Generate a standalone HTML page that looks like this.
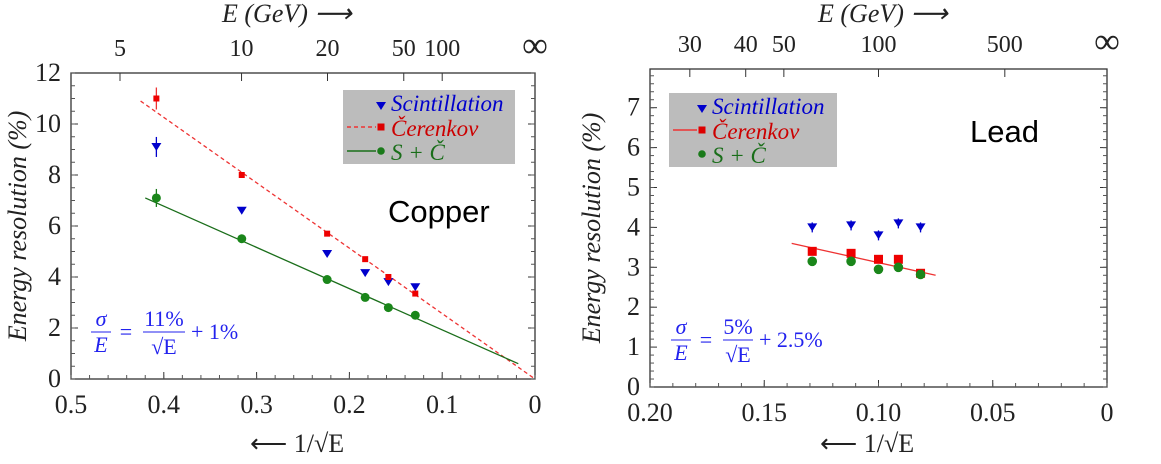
<!DOCTYPE html>
<html><head><meta charset="utf-8"><style>
body{margin:0;background:#fff;}
svg{display:block;}
</style></head><body>
<svg id="c" width="1161" height="464" viewBox="0 0 1161 464" font-family="Liberation Serif, serif"></svg>
<script>
// Copper data (x = 1/sqrt(E))
const cuX = [0.408, 0.316, 0.224, 0.183, 0.158, 0.129];
const cuScint = [9.1, 6.6, 4.9, 4.15, 3.8, 3.6];
const cuCer = [11.0, 8.0, 5.7, 4.7, 4.0, 3.35];
const cuSum = [7.1, 5.5, 3.9, 3.2, 2.8, 2.5];
const cuCerFitX = [0.425, 0.0];
const cuCerFitY = [10.9, 0.0];
const cuSumFitX = [0.42, 0.018];
const cuSumFitY = [7.1, 0.6];
const cuXTicks = ["0.5","0.4","0.3","0.2","0.1","0"];
const cuYTicks = ["0","2","4","6","8","10","12"];
const cuTopE = ["5","10","20","50","100"];
// Lead data
const pbX = [0.129, 0.112, 0.100, 0.0913, 0.0816];
const pbScint = [4.0, 4.05, 3.8, 4.1, 4.0];
const pbCer = [3.4, 3.35, 3.2, 3.2, 2.85];
const pbSum = [3.15, 3.15, 2.95, 3.0, 2.82];
const pbFitX = [0.138, 0.075];
const pbFitY = [3.6, 2.8];
const pbXTicks = ["0.20","0.15","0.10","0.05","0"];
const pbYTicks = ["0","1","2","3","4","5","6","7"];
const pbTopE = ["30","40","50","100","500"];

const NS="http://www.w3.org/2000/svg";
const svg=document.getElementById('c');
function el(t,a,txt,p){const e=document.createElementNS(NS,t);for(const k in a)e.setAttribute(k,a[k]);if(t==='text'&&!a['font-family'])e.style.fontFamily='"Liberation Serif", serif';if(txt!=null)e.textContent=txt;(p||svg).appendChild(e);return e;}

function panel(o){
  const sx=v=>o.x0+(o.xmax-v)/o.xmax*(o.x1-o.x0);
  const sy=v=>o.y1-(v/o.ymax)*(o.y1-o.y0);
  const g=el('g',{});
  
  
  const fr=el('rect',{x:o.x0,y:o.y0,width:o.x1-o.x0,height:o.y1-o.y0,fill:'none',stroke:'#333','stroke-width':1.3},null,g);
  
  
  o.xTicks.forEach(t=>{const v=parseFloat(t);const x=sx(v);
    el('line',{x1:x,x2:x,y1:o.y1,y2:o.y1-7,stroke:'#333'},null,g);
    const tx=el('text',{x:x,y:o.y1+34,'font-size':26,'text-anchor':'middle',fill:'#222'},t,g);
    
    
  });
  for(let v=0;v<=o.xmax+1e-9;v+=o.xminor){const x=sx(v);el('line',{x1:x,x2:x,y1:o.y1,y2:o.y1-4,stroke:'#555'},null,g);}
  o.yTicks.forEach(t=>{const v=parseFloat(t);const y=sy(v);
    el('line',{x1:o.x0,x2:o.x0+7,y1:y,y2:y,stroke:'#333'},null,g);
    el('line',{x1:o.x1,x2:o.x1-7,y1:y,y2:y,stroke:'#333'},null,g);
    const ty=el('text',{x:o.x0-10,y:y+8,'font-size':26,'text-anchor':'end',fill:'#222'},t,g);
    
    
  });
  for(let v=0;v<=o.ymax+1e-9;v+=o.yminor){const y=sy(v);el('line',{x1:o.x0,x2:o.x0+4,y1:y,y2:y,stroke:'#555'},null,g);el('line',{x1:o.x1,x2:o.x1-4,y1:y,y2:y,stroke:'#555'},null,g);}
  o.topE.forEach(t=>{const x=sx(1/Math.sqrt(parseFloat(t)));
    el('line',{x1:x,x2:x,y1:o.y0,y2:o.y0+8,stroke:'#333'},null,g);
    const te=el('text',{x:x,y:o.y0-17,'font-size':24,'text-anchor':'middle',fill:'#222'},t,g);
    
    
  });
  const inf=el('text',{x:o.x1,y:o.y0-16,'font-size':36,'text-anchor':'middle',fill:'#222'},'∞',g);
  
  
  const tt=el('text',{x:o.topTitleX,y:22,'font-size':26,'font-style':'italic',fill:'#222'},'E (GeV) ⟶',g);
  
  
  const bt=el('text',{x:o.botTitleX,y:452,'font-size':26,fill:'#222'},'⟵ 1/√E',g);
  
  
  const yt=el('text',{x:0,y:0,'font-size':26,'font-style':'italic','text-anchor':'middle',fill:'#222',transform:`translate(${o.yTitleX},${(o.y0+o.y1)/2}) rotate(-90)`},'Energy resolution (%)',g);
  
  
  const lg=el('g',{},null,g);
  
  
  el('rect',{x:o.lx,y:o.ly,width:o.lw,height:74,fill:'#bcbcbc'},null,lg);
  const mx=o.lx+o.lmk;
  el('path',{d:`M${mx-5},${o.ly+12} h10 l-5,8 z`,fill:'#00c'},null,lg);
  el('text',{x:mx+10,y:o.ly+21,'font-size':23,'font-style':'italic',fill:'#00c'},'Scintillation',lg);
  el('line',{x1:o.lx+4,x2:mx-5,y1:o.ly+37,y2:o.ly+37,stroke:'#e33','stroke-width':1.5,'stroke-dasharray':o.cerDash?'4,3':'none'},null,lg);
  el('rect',{x:mx-3.5,y:o.ly+33.5,width:7,height:7,fill:'#d00'},null,lg);
  el('text',{x:mx+10,y:o.ly+46,'font-size':23,'font-style':'italic',fill:'#c00'},'Čerenkov',lg);
  if(o.sumLine) el('line',{x1:o.lx+4,x2:mx-5,y1:o.ly+61,y2:o.ly+61,stroke:'#1a6e1a','stroke-width':1.5},null,lg);
  el('circle',{cx:mx,cy:o.ly+61,r:3.8,fill:'#1a7a1a'},null,lg);
  el('text',{x:mx+10,y:o.ly+70,'font-size':23,'font-style':'italic',fill:'#1a6e1a'},'S + Č',lg);
  const nm=el('text',{x:o.nameX,y:o.nameY,'font-size':31,'font-family':'Liberation Sans, sans-serif',fill:'#000'},o.label,g);
  nm.style.fontFamily='"Liberation Sans", sans-serif';
  
  
  const fm=el('g',{fill:'#22e'},null,g);
  
  
  const fx=o.fx, fy=o.fy, fs=22;
  el('text',{x:fx,y:fy-6,'font-size':fs,'font-style':'italic','text-anchor':'middle'},'σ',fm);
  el('line',{x1:fx-10,x2:fx+10,y1:fy,y2:fy,stroke:'#22e'},null,fm);
  el('text',{x:fx,y:fy+20,'font-size':fs,'font-style':'italic','text-anchor':'middle'},'E',fm);
  el('text',{x:fx+25,y:fy+7,'font-size':fs,'text-anchor':'middle'},'=',fm);
  el('text',{x:fx+o.fw/2+42,y:fy-6,'font-size':fs,'text-anchor':'middle'},o.fnum,fm);
  el('line',{x1:fx+42,x2:fx+42+o.fw,y1:fy,y2:fy,stroke:'#22e'},null,fm);
  el('text',{x:fx+o.fw/2+42,y:fy+22,'font-size':fs,'text-anchor':'middle'},'√E',fm);
  el('text',{x:fx+o.fw+48,y:fy+7,'font-size':fs},o.fadd,fm);
  o.fits.forEach(f=>{const ln=el('line',{x1:sx(f.x[0]),y1:sy(f.y[0]),x2:sx(f.x[1]),y2:sy(f.y[1]),stroke:f.c,'stroke-width':1.3,'stroke-dasharray':f.dash||'none'},null,g);
    
    });
  o.X.forEach((xv,i)=>{const x=sx(xv);
    let y=sy(o.scint[i]);
    const eb=o.err?(i==0?10:0):5;
    if(eb) el('line',{x1:x,x2:x,y1:y-eb,y2:y+eb,stroke:'#00c','stroke-width':1.3},null,g);
    const t=el('path',{d:`M${x-5},${y-4} h10 l-5,8 z`,fill:'#00c'},null,g);
    
    
    y=sy(o.cer[i]);
    if(o.err&&i==0) el('line',{x1:x,x2:x,y1:y-11,y2:y+11,stroke:'#e33','stroke-width':1.3},null,g);
    const r=el('rect',{x:x-o.sq/2,y:y-o.sq/2,width:o.sq,height:o.sq,fill:'#e00'},null,g);
    
    
    y=sy(o.sum[i]);
    if(o.err&&i==0) el('line',{x1:x,x2:x,y1:y-9,y2:y+9,stroke:'#1a7a1a','stroke-width':1.3},null,g);
    const c=el('circle',{cx:x,cy:y,r:o.cr,fill:'#1a861a'},null,g);
    
    
  });
}
panel({name:'copper',x0:71,x1:535,y0:73,y1:379,xmax:0.5,ymax:12,xminor:0.02,yminor:0.5,
  xTicks:cuXTicks,yTicks:cuYTicks,topE:cuTopE,topTitleX:222,botTitleX:250,yTitleX:26,
  lx:343,ly:90,lw:172,lmk:38,cerDash:true,sumLine:true,label:'Copper',nameX:388,nameY:222,
  fx:101,fy:332,fw:42,fnum:'11%',fadd:'+ 1%',
  fits:[{x:cuCerFitX,y:cuCerFitY,c:'#e33',dash:'4,3',name:'cerenkov-fit-line'},{x:cuSumFitX,y:cuSumFitY,c:'#1a6e1a',name:'sum-fit-line'}],
  X:cuX,scint:cuScint,cer:cuCer,sum:cuSum,sq:6,cr:4.5,err:true});
panel({name:'lead',x0:650,x1:1107,y0:69,y1:387,xmax:0.2,ymax:7.97,xminor:0.01,yminor:0.2,
  xTicks:pbXTicks,yTicks:pbYTicks,topE:pbTopE,topTitleX:818,botTitleX:820,yTitleX:600,
  lx:669,ly:93,lw:168,lmk:33,cerDash:false,sumLine:false,label:'Lead',nameX:970,nameY:142,
  fx:681,fy:340,fw:30,fnum:'5%',fadd:'+ 2.5%',
  fits:[{x:pbFitX,y:pbFitY,c:'#e33',name:'cerenkov-fit-line'}],
  X:pbX,scint:pbScint,cer:pbCer,sum:pbSum,sq:9,cr:4.8,err:false});
</script>
</body></html>
